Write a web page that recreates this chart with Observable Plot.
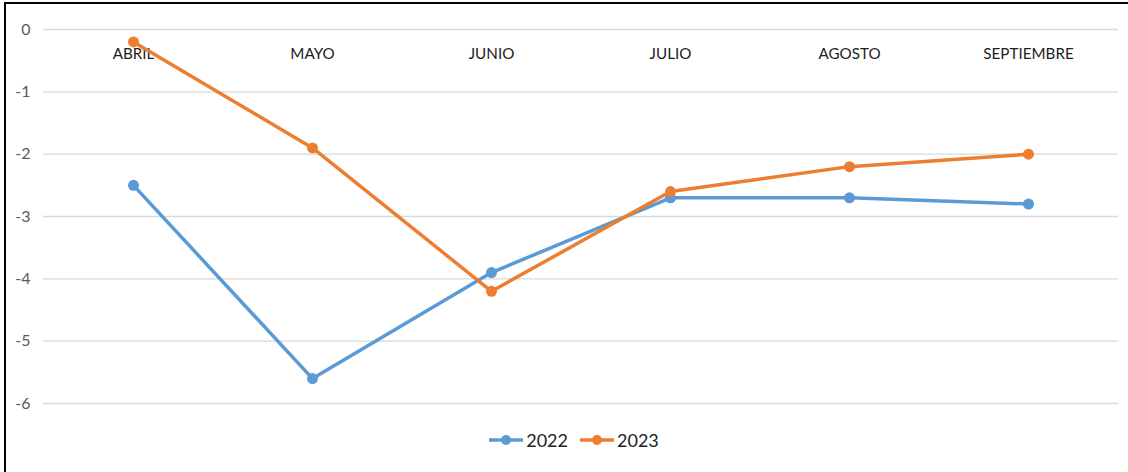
<!DOCTYPE html>
<html>
<head>
<meta charset="utf-8">
<script src="https://cdn.jsdelivr.net/npm/d3@7"></script>
<script src="https://cdn.jsdelivr.net/npm/@observablehq/plot@0.6"></script>
<style>
  html, body { margin: 0; padding: 0; background: #fff; }
  body { width: 1128px; height: 472px; position: relative; overflow: hidden;
         font-family: Lato, "Open Sans", sans-serif; }
  #frame { position: absolute; left: 4px; top: 2px; width: 1130px; height: 480px;
           border-left: 2px solid #000; border-top: 2px solid #000; box-sizing: border-box; }
  #chart { position: absolute; left: 0; top: 0; }
  #legend { position: absolute; top: 429px; left: 0; width: 1148px; display: flex;
            justify-content: center; gap: 12px; font-size: 18px; color: #222; }
  .item { display: flex; align-items: center; gap: 3px; }
</style>
</head>
<body>
<div id="frame"></div>
<div id="chart"></div>
<div id="legend"></div>
<script>
const months = ["ABRIL", "MAYO", "JUNIO", "JULIO", "AGOSTO", "SEPTIEMBRE"];
const values2022 = [-2.5, -5.6, -3.9, -2.7, -2.7, -2.8];
const values2023 = [-0.2, -1.9, -4.2, -2.6, -2.2, -2.0];
const years = ["2022", "2023"];
const colors = ["#5B9BD5", "#ED7D31"];
const yTicks = [0, -1, -2, -3, -4, -5, -6];

const data = [
  ...months.map((m, i) => ({month: m, value: values2022[i], year: years[0]})),
  ...months.map((m, i) => ({month: m, value: values2023[i], year: years[1]}))
];

const chart = Plot.plot({
  width: 1128,
  height: 420,
  marginTop: 29,
  marginBottom: 17,
  marginLeft: 43,
  marginRight: 10,
  style: {fontFamily: "Lato, 'Open Sans', sans-serif", background: "transparent"},
  x: {domain: months, type: "point", padding: 0.5, axis: null},
  y: {domain: [-6, 0], ticks: yTicks, axis: null},
  color: {domain: years, range: colors},
  marks: [
    Plot.ruleY(yTicks, {stroke: "#D9D9D9", strokeWidth: 1.3}),
    Plot.text(yTicks, {x: () => months[0], y: d => d, text: d => String(d), dx: -103, textAnchor: "end",
      fill: "#595959", fontSize: 16}),
    Plot.text(months, {x: d => d, y: () => 0, text: d => d, dy: 25, fill: "#222", fontSize: 15.2}),
    Plot.line(data, {x: "month", y: "value", stroke: "year", strokeWidth: 3.5}),
    Plot.dot(data, {x: "month", y: "value", fill: "year", r: 5.5})
  ]
});
document.getElementById("chart").appendChild(chart);

const legend = document.getElementById("legend");
years.forEach((y, i) => {
  const item = document.createElement("div");
  item.className = "item";
  item.innerHTML = `<svg width="34" height="12"><line x1="0" y1="6" x2="34" y2="6" stroke="${colors[i]}" stroke-width="3.5"/><circle cx="17" cy="6" r="5" fill="${colors[i]}"/></svg><span>${y}</span>`;
  legend.appendChild(item);
});
</script>
</body>
</html>
